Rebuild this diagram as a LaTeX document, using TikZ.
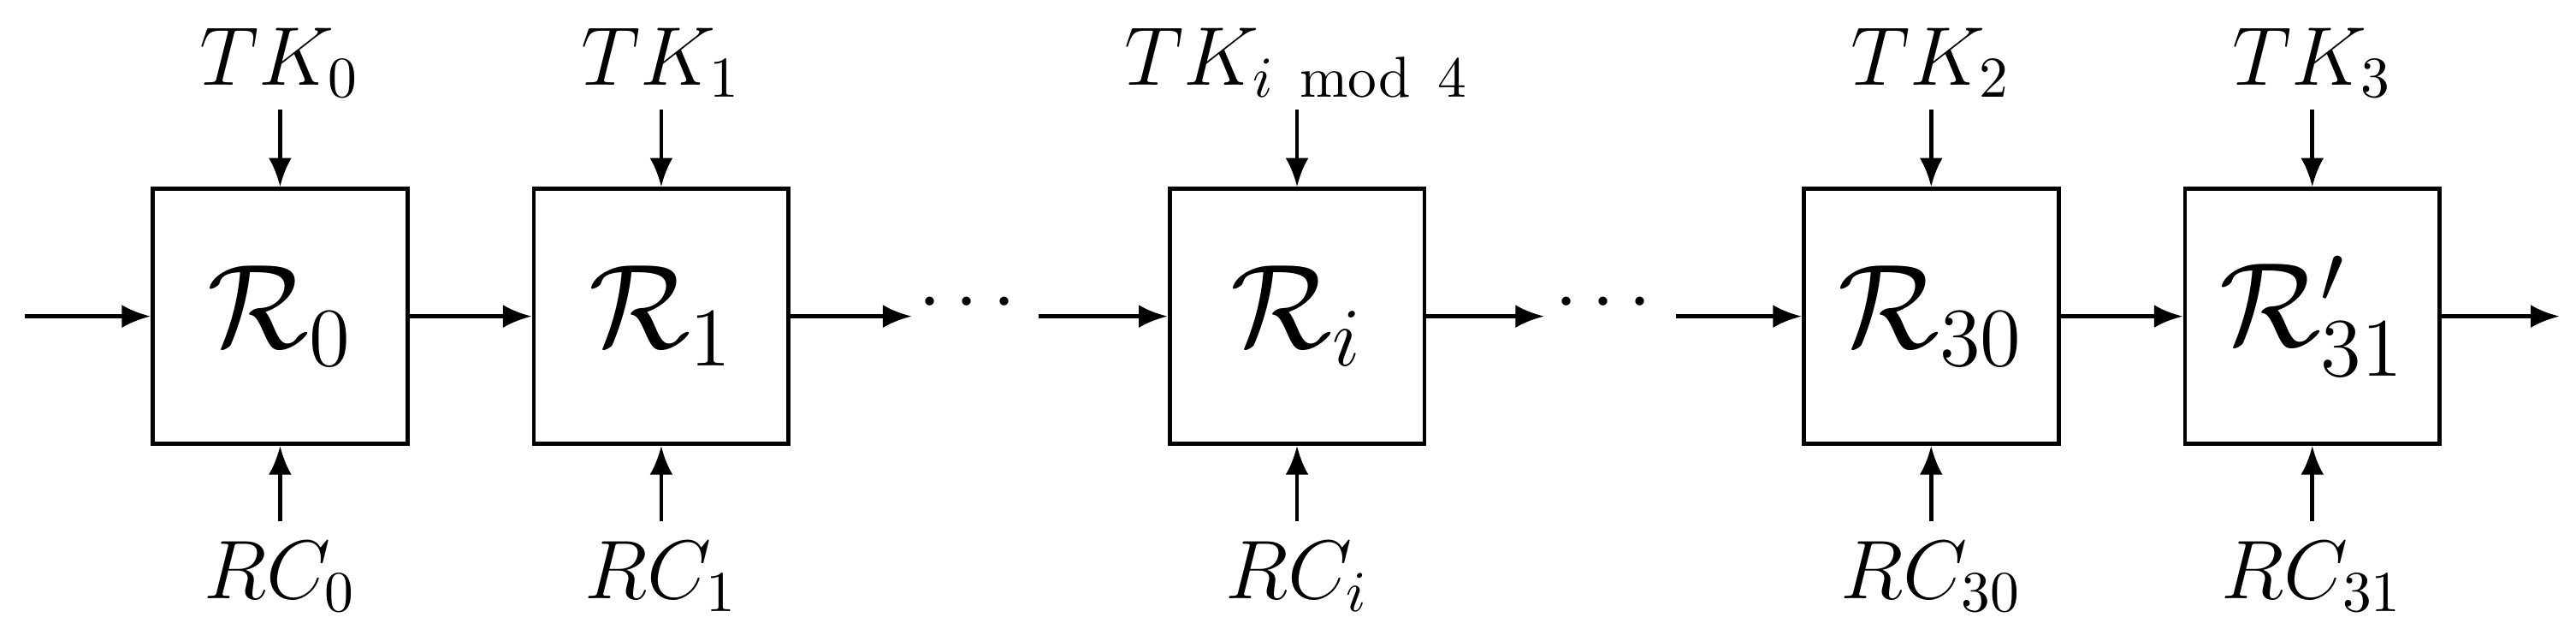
\documentclass[tikz,border=0pt]{standalone}
\usepackage{amsmath}
\usetikzlibrary{arrows.meta}
\begin{document}
\begin{tikzpicture}[x=0.01cm,y=-0.01cm,
  rbox/.style={draw,line width=0.7pt,minimum width=1.55cm,minimum height=1.55cm,inner sep=0pt,font=\huge},
  lab/.style={font=\Large,inner sep=1pt},
  arr/.style={-{Latex[length=5pt,width=4pt]},line width=0.7pt}]
\useasboundingbox (0,0) rectangle (1568,389.6);
\node[rbox] (r0) at (170.5,192.5) {$\mathcal{R}_0$};
\node[rbox] (r1) at (402.5,192.5) {$\mathcal{R}_1$};
\node[rbox] (ri) at (789.5,192.5) {$\mathcal{R}_i$};
\node[rbox] (r30) at (1175.5,192.5) {$\mathcal{R}_{30}$};
\node[rbox] (r31) at (1407.5,192.5) {$\mathcal{R}'_{31}$};
\foreach \n/\t/\b in {r0/{TK_0}/{RC_0},r1/{TK_1}/{RC_1},ri/{TK_{i\ \mathrm{mod}\ 4}}/{RC_i},r30/{TK_2}/{RC_{30}},r31/{TK_3}/{RC_{31}}}{
  \node[lab,anchor=base] (\n t) at ([yshift=0.62cm]\n.north) {$\t$};
  \node[lab,anchor=base] (\n b) at ([yshift=-0.93cm]\n.south) {$\b$};
  \draw[arr] ([yshift=0.47cm]\n.north) -- (\n.north);
  \draw[arr] ([yshift=-0.46cm]\n.south) -- (\n.south);
}
\coordinate (in) at (15,192.5);
\coordinate (d1a) at (555,192.5);
\coordinate (d1b) at (632,192.5);
\coordinate (d2a) at (940,192.5);
\coordinate (d2b) at (1020,192.5);
\coordinate (out) at (1558,192.5);
\draw[arr] (in) -- (r0);
\draw[arr] (r0) -- (r1);
\draw[arr] (r1) -- (d1a);
\node[font=\Large] at (593,185) {$\cdots$};
\draw[arr] (d1b) -- (ri);
\draw[arr] (ri) -- (d2a);
\node[font=\Large] at (980,185) {$\cdots$};
\draw[arr] (d2b) -- (r30);
\draw[arr] (r30) -- (r31);
\draw[arr] (r31) -- (out);
\end{tikzpicture}
\end{document}
